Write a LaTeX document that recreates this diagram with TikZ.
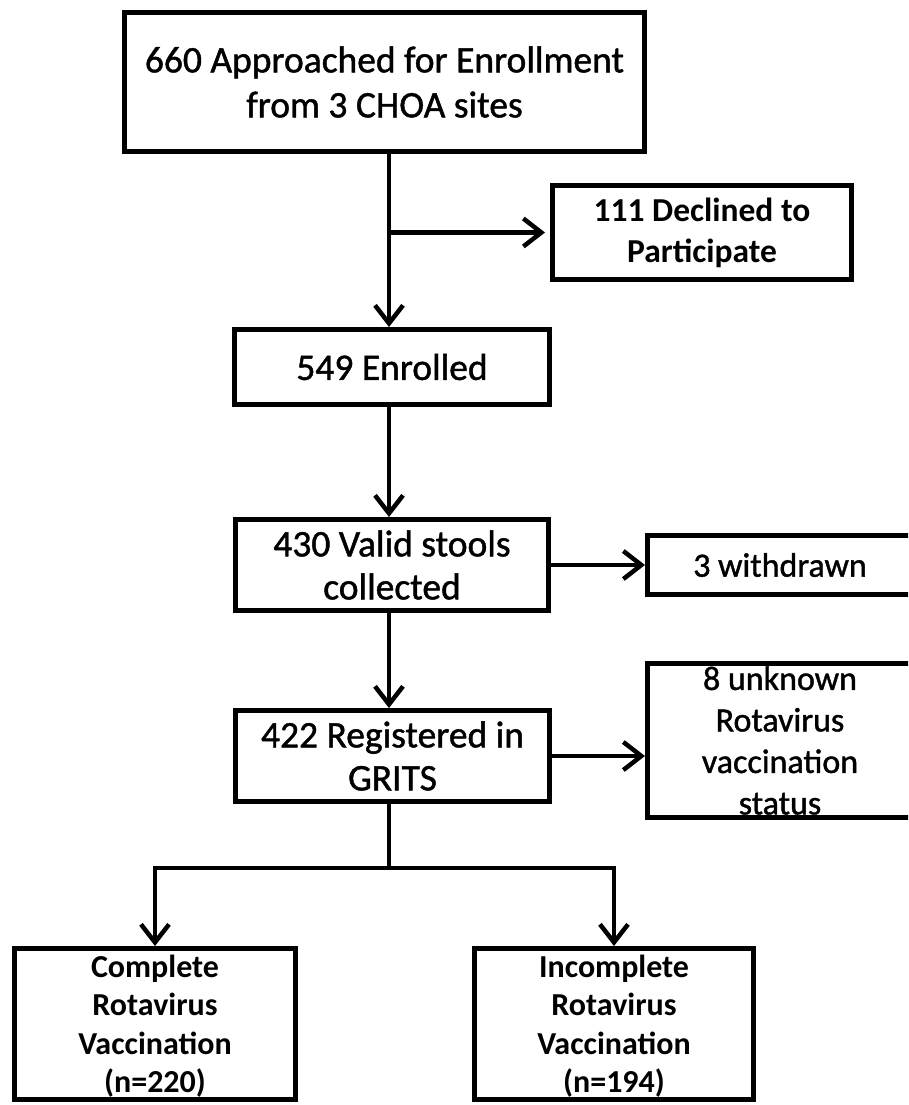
\documentclass[tikz,border=0pt]{standalone}
\usepackage{fontspec}
\setmainfont{Carlito}
\newfontfamily\emb{Carlito}[FakeBold=1.2]
\usetikzlibrary{arrows.meta}
\begin{document}
\begin{tikzpicture}[x=1pt,y=-1pt,
  box/.style={draw=black, line width=5pt, fill=white, inner sep=0pt, align=center, text=black},
  arr/.style={line width=4.5pt, -{Straight Barb[length=18pt,width=28pt]}},
  ln/.style={line width=4.5pt},
  fbig/.style={font=\emb\fontsize{37.5}{45}\selectfont},
  fmid/.style={font=\emb\fontsize{37.5}{43}\selectfont},
  fsmall/.style={font=\emb\fontsize{34}{41.5}\selectfont},
  fbold/.style={font=\bfseries\fontsize{33.5}{41}\selectfont},
  fbot/.style={font=\bfseries\fontsize{32}{38.5}\selectfont}]
\useasboundingbox (0,0) rectangle (908,1105);
\clip (0,0) rectangle (908,1105);
\fill[white] (0,0) rectangle (908,1105);

\coordinate (sp) at (389,0);
\coordinate (split) at (389,868);

\node[box, fbig, minimum width=520pt, minimum height=139pt] (b1) at (384.5,82)
  {660 Approached for Enrollment\\from 3 CHOA sites};
\node[box, fbold, minimum width=299pt, minimum height=94pt] (b2) at (702,232.5)
  {111 Declined to\\Participate};
\node[box, fbig, minimum width=315pt, minimum height=75pt] (b3) at (392,367)
  {549 Enrolled};
\node[box, fmid, minimum width=313pt, minimum height=91pt] (b4) at (392,565)
  {430 Valid stools\\collected};
\node[box, fsmall, minimum width=265pt, minimum height=59pt] (b5) at (780,565)
  {3 withdrawn};
\node[box, fmid, minimum width=314pt, minimum height=91pt] (b6) at (392.5,756)
  {422 Registered in\\GRITS};
\node[box, fsmall, minimum width=265pt, minimum height=154pt] (b7) at (780,740.5)
  {8 unknown\\Rotavirus\\vaccination\\status};
\node[box, fbot, text depth=0pt, minimum width=281pt, minimum height=151pt] (b8) at (155,1024)
  {Complete\\Rotavirus\\Vaccination\\(n=220)};
\node[box, fbot, text depth=0pt, minimum width=279pt, minimum height=151pt] (b9) at (614,1024)
  {Incomplete\\Rotavirus\\Vaccination\\(n=194)};

\draw[arr] (b1.south -| sp) -- (b3.north -| sp);
\draw[arr, shorten >=5pt] (sp |- b2.west) -- (b2.west);
\draw[arr] (b3.south -| sp) -- (b4.north -| sp);
\draw[arr] (b4.east) -- (b4.east -| b5.west);
\draw[arr] (b4.south -| sp) -- (b6.north -| sp);
\draw[arr] (b6.east) -- (b6.east -| b7.west);
\draw[ln] (b6.south -| sp) -- (split);
\draw[arr] (split) -| (b8.north);
\draw[arr] (split) -| (b9.north);
\end{tikzpicture}
\end{document}
